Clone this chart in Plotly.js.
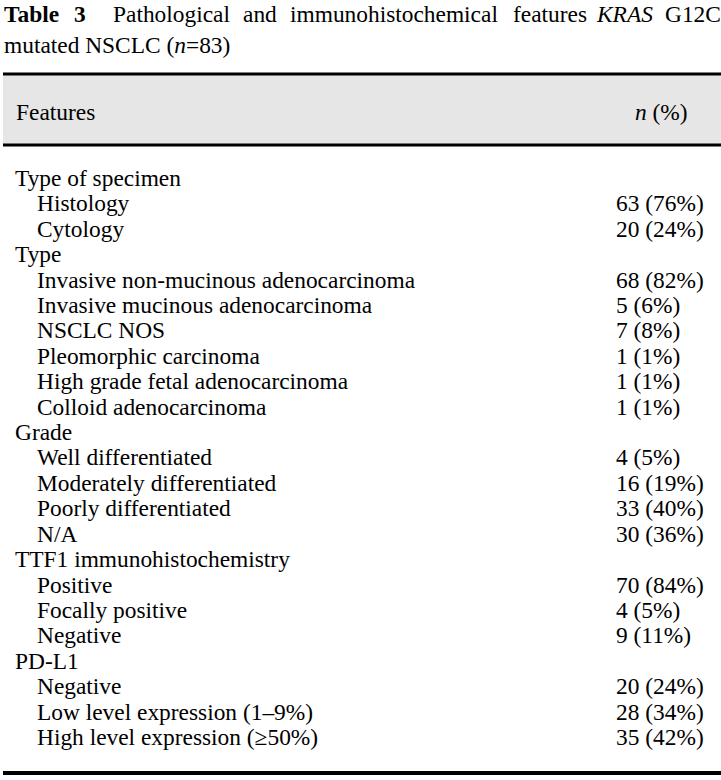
<!DOCTYPE html>
<html>
<head>
<meta charset="utf-8">
<script src="https://cdn.plot.ly/plotly-3.0.1.min.js"></script>
<style>html,body{margin:0;padding:0;background:#fff;}#chart{width:721px;height:780px;}</style>
</head>
<body>
<div id="chart"></div>
<script>
const titleWords = ["<b>Table</b>", "<b>3</b>", "Pathological", "and", "immunohistochemical", "features", "<i>KRAS</i>", "G12C"];
const titleLine2 = "mutated NSCLC (<i>n</i>=83)";
const headerLabels = ["Features", "<i>n</i> (%)"];

const groupNames = ["Type of specimen", "Type", "Grade", "TTF1 immunohistochemistry", "PD-L1"];

const specimenItems = ["Histology", "Cytology"];
const specimenN = [63, 20];
const specimenPct = [76, 24];

const typeItems = ["Invasive non-mucinous adenocarcinoma", "Invasive mucinous adenocarcinoma", "NSCLC NOS",
  "Pleomorphic carcinoma", "High grade fetal adenocarcinoma", "Colloid adenocarcinoma"];
const typeN = [68, 5, 7, 1, 1, 1];
const typePct = [82, 6, 8, 1, 1, 1];

const gradeItems = ["Well differentiated", "Moderately differentiated", "Poorly differentiated", "N/A"];
const gradeN = [4, 16, 33, 30];
const gradePct = [5, 19, 40, 36];

const ttf1Items = ["Positive", "Focally positive", "Negative"];
const ttf1N = [70, 4, 9];
const ttf1Pct = [84, 5, 11];

const pdl1Items = ["Negative", "Low level expression (1\u20139%)", "High level expression (\u226550%)"];
const pdl1N = [20, 28, 35];
const pdl1Pct = [24, 34, 42];

// ---- Build rows ----
const groups = [
  [specimenItems, specimenN, specimenPct],
  [typeItems, typeN, typePct],
  [gradeItems, gradeN, gradePct],
  [ttf1Items, ttf1N, ttf1Pct],
  [pdl1Items, pdl1N, pdl1Pct]
];
const firstRowY = 180, rowStep = 25.42;
const gY = [], gT = [], iY = [], iT = [], vT = [];
let r = 0;
groups.forEach((g, gi) => {
  gY.push(firstRowY + r * rowStep); gT.push(groupNames[gi]); r++;
  g[0].forEach((lab, k) => {
    iY.push(firstRowY + r * rowStep); iT.push(lab);
    vT.push(g[1][k] + " (" + g[2][k] + "%)"); r++;
  });
});

const font = {family: "Liberation Serif, Times New Roman, serif", size: 23.4, color: "#000"};
const traces = [
  {type: "scatter", mode: "text", x: gY.map(() => 15), y: gY, text: gT, textposition: "middle right", textfont: font, hoverinfo: "skip", showlegend: false, cliponaxis: false},
  {type: "scatter", mode: "text", x: iY.map(() => 37), y: iY, text: iT, textposition: "middle right", textfont: font, hoverinfo: "skip", showlegend: false, cliponaxis: false},
  {type: "scatter", mode: "text", x: iY.map(() => 616), y: iY, text: vT, textposition: "middle right", textfont: font, hoverinfo: "skip", showlegend: false, cliponaxis: false}
];

const titleX = [2, 72, 111, 241, 288, 511, 594, 663];
const annotations = titleWords.map((w, i) => ({
  xref: "x", yref: "y", x: titleX[i], y: 14, text: w, showarrow: false,
  xanchor: "left", yanchor: "middle", font: font
}));
annotations.push({xref: "x", yref: "y", x: 2, y: 45, text: titleLine2, showarrow: false, xanchor: "left", yanchor: "middle", font: font});
annotations.push({xref: "x", yref: "y", x: 14, y: 112, text: headerLabels[0], showarrow: false, xanchor: "left", yanchor: "middle", font: font});
annotations.push({xref: "x", yref: "y", x: 633, y: 112, text: headerLabels[1], showarrow: false, xanchor: "left", yanchor: "middle", font: font});

const shapes = [
  {type: "rect", xref: "x", yref: "y", x0: 3, x1: 721, y0: 75, y1: 144, fillcolor: "#e6e6e6", line: {width: 0}, layer: "below"},
  {type: "line", xref: "x", yref: "y", x0: 3, x1: 721, y0: 74, y1: 74, line: {color: "#000", width: 3}},
  {type: "line", xref: "x", yref: "y", x0: 3, x1: 721, y0: 145, y1: 145, line: {color: "#000", width: 3}},
  {type: "line", xref: "x", yref: "y", x0: 3, x1: 721, y0: 773, y1: 773, line: {color: "#000", width: 4}}
];

const layout = {
  width: 721, height: 780,
  margin: {l: 0, r: 0, t: 0, b: 0, pad: 0},
  paper_bgcolor: "#fff", plot_bgcolor: "#fff",
  xaxis: {range: [0, 721], visible: false, fixedrange: true},
  yaxis: {range: [780, 0], visible: false, fixedrange: true},
  annotations: annotations, shapes: shapes, showlegend: false
};
Plotly.newPlot("chart", traces, layout, {staticPlot: true, displayModeBar: false});
</script>
</body>
</html>
